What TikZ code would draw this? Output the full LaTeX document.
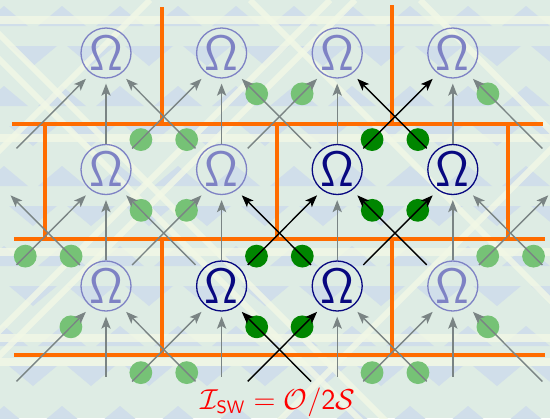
\documentclass[tikz,border=0pt]{standalone}
\usepackage{amsmath,amssymb}
\usepackage{tikz}
\usetikzlibrary{arrows.meta,calc,positioning}

\definecolor{omlight}{RGB}{126,130,196}
\definecolor{omdark}{RGB}{8,8,128}
\definecolor{arrgray}{RGB}{122,132,132}
\definecolor{dotlight}{RGB}{118,194,118}
\definecolor{dotdark}{RGB}{0,134,0}
\definecolor{brick}{RGB}{255,108,0}
\definecolor{bgmint}{RGB}{222,236,228}
\definecolor{bgblue}{RGB}{208,222,234}
\definecolor{bglight}{RGB}{242,248,230}

\begin{document}
\begin{tikzpicture}[x=0.5pt,y=-0.5pt,
  om/.style={circle,draw,line width=0.65pt,minimum size=25pt,inner sep=0pt,
    font=\fontsize{23}{24}\selectfont},
  omp/.style={om,draw=omlight,text=omlight},
  omd/.style={om,draw=omdark,text=omdark},
  ghost/.style={circle,minimum size=25pt,inner sep=0pt,outer sep=0.3pt},
  garr/.style={draw=arrgray,line width=0.7pt,-{Stealth[length=6pt,width=4.6pt,inset=1.4pt]}},
  karr/.style={garr,draw=black},
  brk/.style={brick,line width=2pt}]
\useasboundingbox (0,0) rectangle (550,418);
% background
\begin{scope}
\clip (0,0) rectangle (550,418);
\fill[bgmint] (0,0) rectangle (550,418);
\foreach \r in {0,...,10} \foreach \c in {0,...,10} {
  \pgfmathsetmacro\tx{\c*58+mod(\r,2)*29-20}
  \pgfmathsetmacro\ty{\r*40+6}
  \ifodd\r
    \fill[bgblue] (\tx,\ty) -- ++(48,0) -- ++(-24,20) -- cycle;
  \else
    \fill[bgblue] (\tx,\ty+20) -- ++(48,0) -- ++(-24,-20) -- cycle;
  \fi
}
\foreach \y in {20,138,252,338,362}
  \fill[bglight,opacity=.8] (0,\y-4) rectangle (550,\y+4);
\foreach \o in {-60,-35,250,420}
  \draw[bglight,line width=3pt,opacity=.8] (\o,0) -- ++(450,450);
\foreach \o in {150,330,355,700}
  \draw[bglight,line width=3pt,opacity=.8] (\o,0) -- ++(-450,450);
\end{scope}

% brick lines
\draw[brk] (12,124) -- (543,124);
\draw[brk] (14,239) -- (545,239);
\draw[brk] (14,355) -- (545,355);
\draw[brk] (162,7) -- (162,124);
\draw[brk] (392,5) -- (392,124);
\foreach \x in {45,277,508} \draw[brk] (\x,124) -- (\x,239);
\foreach \x in {162,392} \draw[brk] (\x,239) -- (\x,355);

% Omega sites
\foreach \i/\j/\s in {1/1/omp,2/1/omp,3/1/omp,4/1/omp,
                      1/2/omp,2/2/omp,3/2/omd,4/2/omd,
                      1/3/omp,2/3/omd,3/3/omd,4/3/omp}
  \node[\s] (n\i\j) at ({106+115.6*(\i-1)},{53+116.5*(\j-1)}) {$\mathsf{\Omega}$};
\foreach \i/\j in {0/2,5/2,0/3,5/3,0/4,1/4,2/4,3/4,4/4,5/4}
  \node[ghost] (n\i\j) at ({106+115.6*(\i-1)},{53+116.5*(\j-1)}) {};

% dots on / lines
\foreach \a/\b/\p/\c in {12/21/.18/dotlight,22/31/.75/dotlight,32/41/.18/dotdark,
    03/12/.18/dotlight,13/22/.75/dotlight,23/32/.18/dotdark,33/42/.75/dotdark,43/52/.18/dotlight,
    04/13/.75/dotlight,14/23/.18/dotlight,24/33/.75/dotdark,34/43/.18/dotlight}
  \fill[\c] ($(n\a.37)!\p!(n\b.234)$) circle (5.7pt);
% dots on \ lines
\foreach \a/\b/\p/\c in {22/11/.18/dotlight,32/21/.75/dotlight,42/31/.18/dotdark,52/41/.75/dotlight,
    13/02/.18/dotlight,23/12/.75/dotlight,33/22/.18/dotdark,43/32/.75/dotdark,53/42/.18/dotlight,
    24/13/.18/dotlight,34/23/.75/dotdark,44/33/.18/dotlight,54/43/.75/dotlight}
  \fill[\c] ($(n\a.143)!\p!(n\b.306)$) circle (5.7pt);

% arrows
\foreach \i in {1,...,4} \foreach \j in {1,2,3} {
  \pgfmathtruncatemacro\k{\j+1}
  \draw[garr,shorten >=2.5pt] (n\i\k.north) -- (n\i\j.south);
}
\foreach \a/\b/\s in {02/11/garr,12/21/garr,22/31/garr,32/41/karr,
    03/12/garr,13/22/garr,23/32/karr,33/42/karr,43/52/garr,
    04/13/garr,14/23/garr,24/33/karr,34/43/garr}
  \draw[\s,shorten <=4pt,shorten >=3.6pt] (n\a.37) -- (n\b.234);
\foreach \a/\b/\s in {22/11/garr,32/21/garr,42/31/karr,52/41/garr,
    13/02/garr,23/12/garr,33/22/karr,43/32/karr,53/42/garr,
    24/13/garr,34/23/karr,44/33/garr,54/43/garr}
  \draw[\s,shorten <=4pt,shorten >=3.6pt] (n\a.143) -- (n\b.306);

\node[text=red,font=\fontsize{13.3}{15}\selectfont] (lbl) at (278,402)
  {$\mathcal{I}_{\mathsf{SW}}=\mathcal{O}/\mathsf{2}\mathcal{S}$};
\end{tikzpicture}
\end{document}
